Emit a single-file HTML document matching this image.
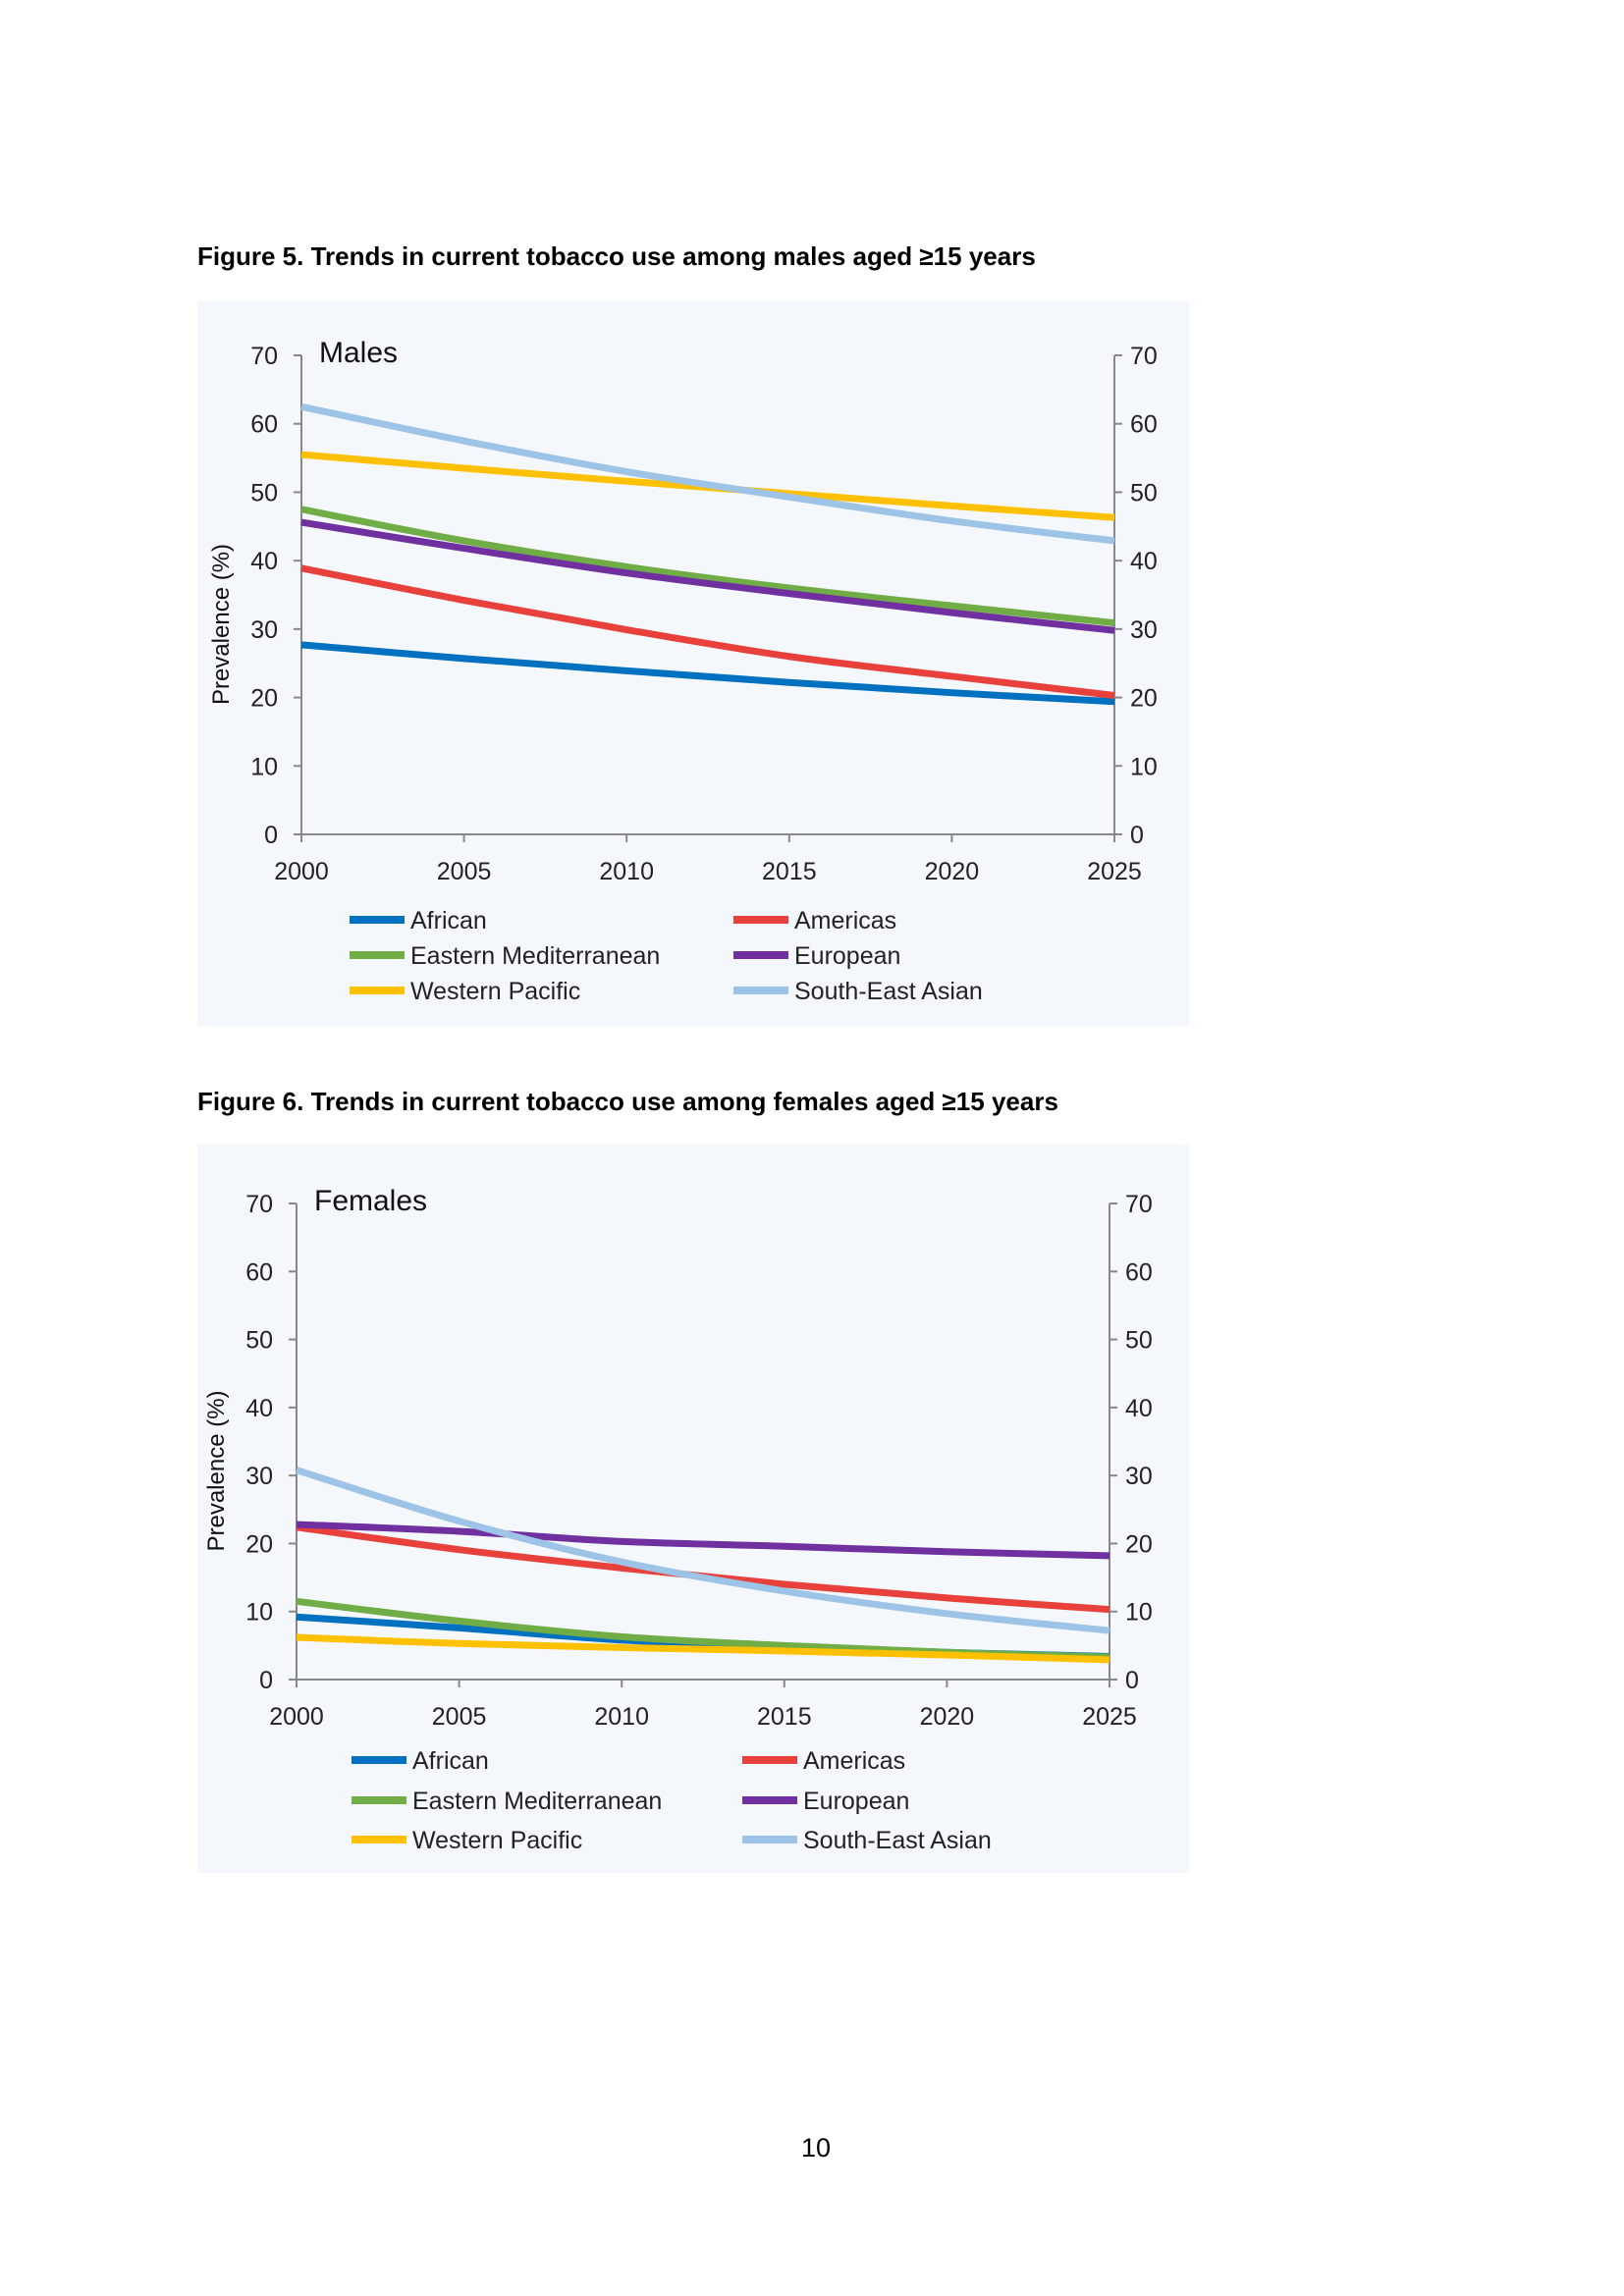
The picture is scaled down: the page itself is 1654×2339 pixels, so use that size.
<!DOCTYPE html>
<html><head><meta charset="utf-8"><style>
html,body{margin:0;padding:0;background:#fff}
svg{display:block}
text{font-family:"Liberation Sans",sans-serif}
</style></head><body>
<svg width="1654" height="2339" viewBox="0 0 1654 2339" xmlns="http://www.w3.org/2000/svg">
<text x="201" y="270" font-size="26" font-weight="bold" fill="#000">Figure 5. Trends in current tobacco use among males aged ≥15 years</text>
<text x="201" y="1131" font-size="26" font-weight="bold" fill="#000">Figure 6. Trends in current tobacco use among females aged ≥15 years</text>
<g id="c1"></g>
<g id="c2"></g>
<text x="831" y="2197" font-size="27" text-anchor="middle">10</text>
</svg>
<script>
const years = [2000, 2005, 2010, 2015, 2020, 2025];
const yTicks = [0, 10, 20, 30, 40, 50, 60, 70];
const seriesNames = ["African", "Americas", "Eastern Mediterranean", "European", "Western Pacific", "South-East Asian"];
const seriesColors = ["#0070c0", "#e8403a", "#70ad47", "#7030a0", "#ffc000", "#9dc3e6"];
const maleAfrican = [27.7, 25.7, 23.9, 22.2, 20.7, 19.4];
const maleAmericas = [38.9, 34.2, 29.9, 26.0, 23.1, 20.3];
const maleEMR = [47.5, 42.9, 39.1, 36.0, 33.4, 30.9];
const maleEuropean = [45.6, 41.8, 38.2, 35.2, 32.4, 29.8];
const maleWPR = [55.5, 53.5, 51.6, 49.8, 48.0, 46.3];
const maleSEAR = [62.5, 57.5, 53.0, 49.3, 45.8, 42.9];
const femaleAfrican = [9.2, 7.6, 5.8, 4.8, 4.0, 3.4];
const femaleAmericas = [22.4, 19.1, 16.4, 14.0, 12.0, 10.3];
const femaleEMR = [11.5, 8.6, 6.3, 5.0, 4.0, 3.3];
const femaleEuropean = [22.8, 21.8, 20.3, 19.6, 18.8, 18.2];
const femaleWPR = [6.2, 5.3, 4.7, 4.2, 3.6, 2.9];
const femaleSEAR = [30.8, 23.3, 17.3, 13.0, 9.7, 7.2];

const NS = "http://www.w3.org/2000/svg";
function mk(tag, attrs, parent) {
  const e = document.createElementNS(NS, tag);
  for (const k in attrs) e.setAttribute(k, attrs[k]);
  parent.appendChild(e);
  return e;
}
function chart(g, cfg, data, label, slug) {
  const xS = v => cfg.x0 + (v - 2000) / 25 * (cfg.x1 - cfg.x0);
  const yS = v => cfg.y0 - v / 70 * (cfg.y0 - cfg.y70);
  const bg = mk("rect", {x: 201, y: cfg.bgY, width: 1010, height: cfg.bgH, fill: "#f4f8fc"}, g);
  
  
  const ax = mk("g", {stroke: "#888", "stroke-width": 2, fill: "none"}, g);
  
  
  mk("line", {x1: cfg.x0, y1: yS(70), x2: cfg.x0, y2: yS(0)}, ax);
  mk("line", {x1: cfg.x1, y1: yS(70), x2: cfg.x1, y2: yS(0)}, ax);
  mk("line", {x1: cfg.x0, y1: yS(0), x2: cfg.x1, y2: yS(0)}, ax);
  yTicks.forEach(t => {
    mk("line", {x1: cfg.x0 - 8, y1: yS(t), x2: cfg.x0, y2: yS(t)}, ax);
    mk("line", {x1: cfg.x1, y1: yS(t), x2: cfg.x1 + 8, y2: yS(t)}, ax);
    const l = mk("text", {x: cfg.x0 - 24, y: yS(t) + 9, "font-size": 25, "text-anchor": "end", fill: "#222"}, g);
    l.textContent = t;
    
    
    const r = mk("text", {x: cfg.x1 + 16, y: yS(t) + 9, "font-size": 25, fill: "#222"}, g);
    r.textContent = t;
    
    
  });
  years.forEach(y => {
    mk("line", {x1: xS(y), y1: yS(0), x2: xS(y), y2: yS(0) + 8}, ax);
    const l = mk("text", {x: xS(y), y: yS(0) + 46, "font-size": 25, "text-anchor": "middle", fill: "#222"}, g);
    l.textContent = y;
    
    
  });
  const tl = mk("text", {x: cfg.x0 + 18, y: yS(70) + 7, "font-size": 30, fill: "#111"}, g);
  tl.textContent = label;
  
  
  const yt = mk("text", {x: 0, y: 0, "font-size": 24, "text-anchor": "middle", fill: "#111", transform: `translate(${cfg.x0 - 74},${(yS(0) + yS(70)) / 2 + 30}) rotate(-90)`}, g);
  yt.textContent = "Prevalence (%)";
  
  
  data.forEach((vals, i) => {
    const pts = vals.map((v, j) => [xS(years[j]), yS(v)]);
    let d = `M${pts[0][0]},${pts[0][1]}`;
    for (let j = 0; j < pts.length - 1; j++) {
      const p0 = pts[Math.max(j - 1, 0)], p1 = pts[j], p2 = pts[j + 1], p3 = pts[Math.min(j + 2, pts.length - 1)];
      const c1 = [p1[0] + (p2[0] - p0[0]) / 6, p1[1] + (p2[1] - p0[1]) / 6];
      const c2 = [p2[0] - (p3[0] - p1[0]) / 6, p2[1] - (p3[1] - p1[1]) / 6];
      d += ` C${c1[0]},${c1[1]} ${c2[0]},${c2[1]} ${p2[0]},${p2[1]}`;
    }
    const p = mk("path", {d: d, fill: "none", stroke: seriesColors[i], "stroke-width": 7, "stroke-linejoin": "round"}, g);
    
    
  });
  seriesNames.forEach((n, i) => {
    const col = i % 2, row = Math.floor(i / 2);
    const sx = col ? cfg.lx2 : cfg.lx1, sy = cfg.ly[row];
    const sw = mk("rect", {x: sx, y: sy - 4, width: 56, height: 8, fill: seriesColors[i]}, g);
    
    
    const t = mk("text", {x: sx + 62, y: sy + 9, "font-size": 25, fill: "#222"}, g);
    t.textContent = n;
    
    
  });
}
chart(document.getElementById("c1"), {bgY: 307, bgH: 738, x0: 307, x1: 1135, y0: 850, y70: 362, lx1: 356, lx2: 747, ly: [937, 973, 1009]},
  [maleAfrican, maleAmericas, maleEMR, maleEuropean, maleWPR, maleSEAR], "Males", "males");
chart(document.getElementById("c2"), {bgY: 1166, bgH: 742, x0: 302, x1: 1130, y0: 1711, y70: 1226, lx1: 358, lx2: 756, ly: [1793, 1834, 1874]},
  [femaleAfrican, femaleAmericas, femaleEMR, femaleEuropean, femaleWPR, femaleSEAR], "Females", "females");
</script>
</body></html>
